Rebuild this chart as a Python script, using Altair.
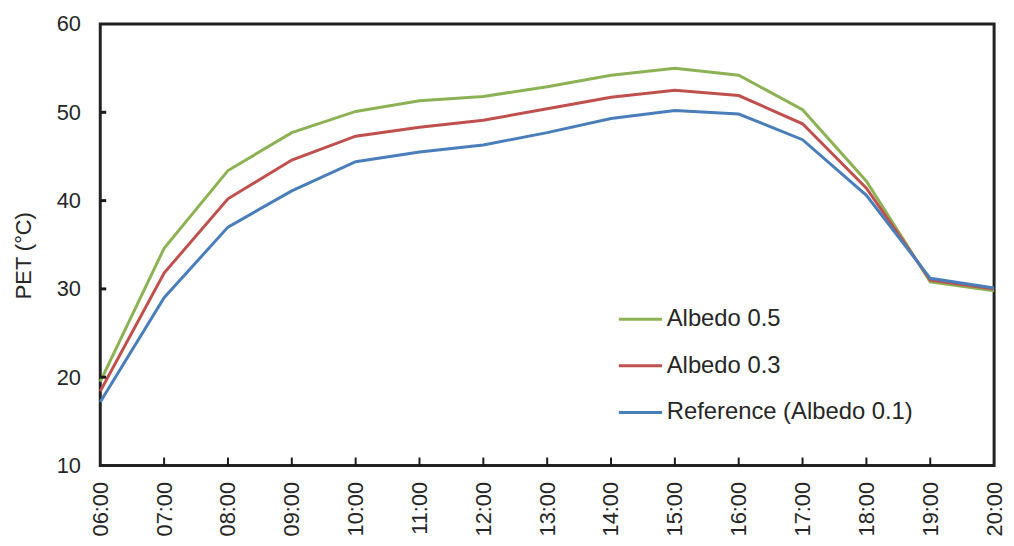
import altair as alt
import pandas as pd

times = ["06:00", "07:00", "08:00", "09:00", "10:00", "11:00", "12:00", "13:00",
         "14:00", "15:00", "16:00", "17:00", "18:00", "19:00", "20:00"]
albedo_05 = [19.5, 34.6, 43.4, 47.7, 50.1, 51.3, 51.8, 52.9, 54.2, 55.0, 54.2, 50.3, 42.2, 30.8, 29.8]
albedo_03 = [18.4, 31.8, 40.2, 44.6, 47.3, 48.3, 49.1, 50.4, 51.7, 52.5, 51.9, 48.7, 41.4, 31.0, 30.0]
reference = [17.2, 29.0, 37.0, 41.1, 44.4, 45.5, 46.3, 47.7, 49.3, 50.2, 49.8, 46.9, 40.6, 31.2, 30.1]

series_names = ["Albedo 0.5", "Albedo 0.3", "Reference (Albedo 0.1)"]
series_colors = ["#8DB255", "#C0504D", "#4A7EBB"]

y_ticks = [20, 30, 40, 50]
x_ticks = times[1:-1]

rows = []
for name, vals in zip(series_names, [albedo_05, albedo_03, reference]):
    for t, v in zip(times, vals):
        rows.append({"time": t, "PET": v, "series": name})
df = pd.DataFrame(rows)

W, H = 901, 445
FONT = "Liberation Sans"
TXT = "#262626"

xscale = alt.Scale(domain=times, type="point", padding=0)
yscale = alt.Scale(domain=[10, 60])

lines = alt.Chart(df).mark_line(strokeWidth=3).encode(
    x=alt.X("time:O", scale=xscale,
            axis=alt.Axis(title=None, labelAngle=270, labelAlign="right", labelBaseline="middle",
                          labelFontSize=22, labelFont=FONT, labelColor=TXT,
                          labelPadding=16, ticks=False, domain=False, grid=False)),
    y=alt.Y("PET:Q", scale=yscale,
            axis=alt.Axis(title="PET (°C)", values=[10, 20, 30, 40, 50, 60],
                          labelFontSize=22, labelFont=FONT, labelColor=TXT,
                          labelPadding=20, ticks=False, domain=False, grid=False,
                          titleFontSize=22, titleFont=FONT, titleFontWeight="normal",
                          titleColor=TXT, titleX=-77, titleY=233,
                          titleAlign="center", titleBaseline="middle", titleAngle=270)),
    color=alt.Color("series:N",
                    scale=alt.Scale(domain=series_names, range=series_colors),
                    legend=alt.Legend(title=None, orient="none", legendX=521, legendY=274,
                                      symbolType="stroke", symbolSize=1900, symbolStrokeWidth=3,
                                      labelFontSize=24, labelFont=FONT, labelColor=TXT,
                                      labelLimit=0, rowPadding=11, labelOffset=3)),
)

ytick_df = pd.DataFrame({"v": y_ticks})
yticks = alt.Chart(ytick_df).mark_rule(color="#1a1a1a", strokeWidth=3).encode(
    y=alt.Y("v:Q", scale=yscale),
    x=alt.value(0), x2=alt.value(6),
)

xtick_df = pd.DataFrame({"t": x_ticks})
xticks = alt.Chart(xtick_df).mark_rule(color="#1a1a1a", strokeWidth=2).encode(
    x=alt.X("t:O", scale=xscale),
    y=alt.value(H), y2=alt.value(H - 8),
)

chart = alt.layer(lines, yticks, xticks).properties(
    width=W, height=H,
    background="white",
    autosize=alt.AutoSizeParams(type="none"),
    padding={"left": 93, "top": 14, "right": 12, "bottom": 79},
).configure_view(
    stroke="#222222", strokeWidth=3
)

chart.save("out.html", embed_options={"renderer": "svg", "actions": False})
